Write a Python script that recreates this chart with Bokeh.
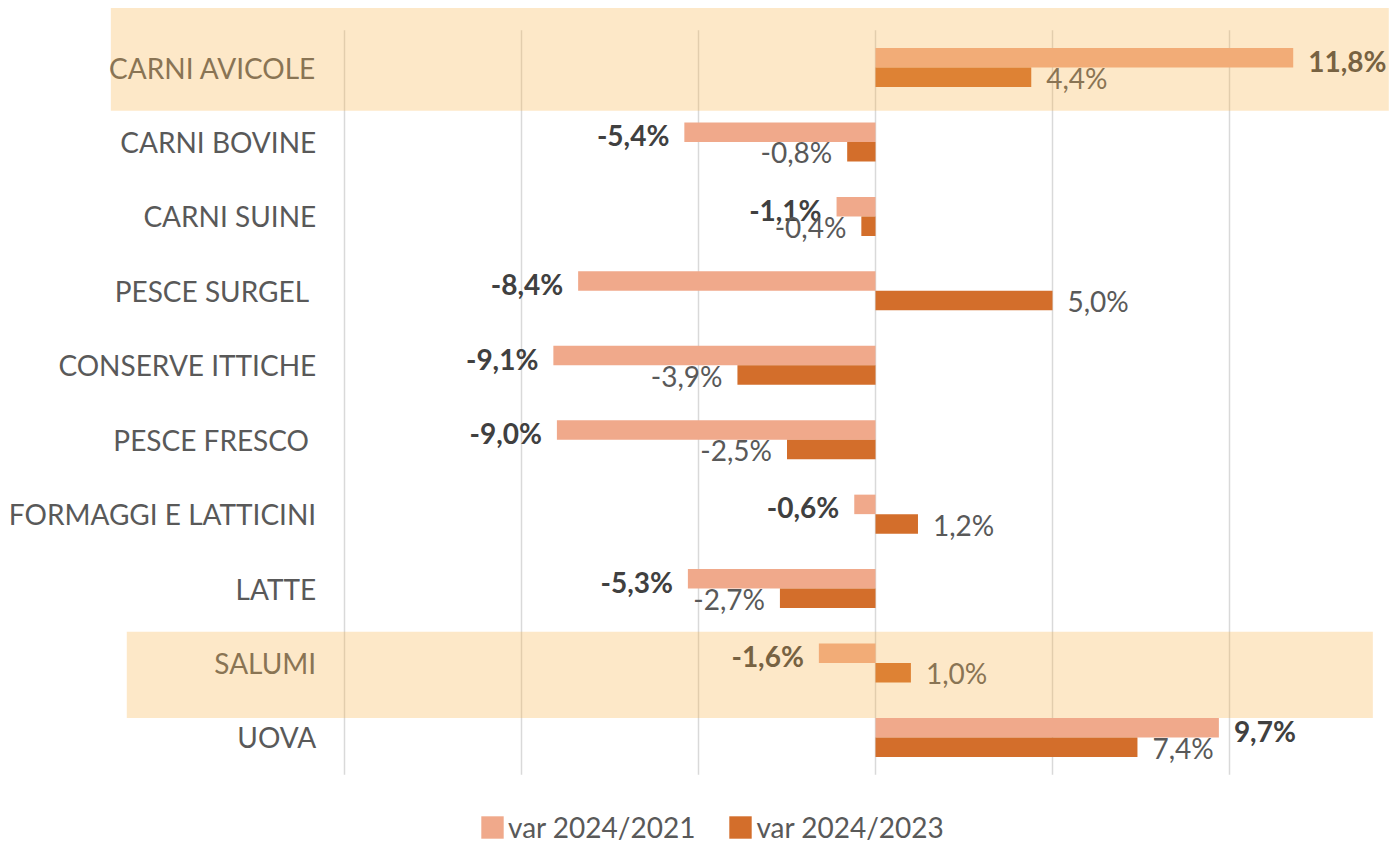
from bokeh.plotting import figure
from bokeh.models import Range1d, ColumnDataSource, Legend, LegendItem
from bokeh.core.properties import value
from bokeh.embed import file_html
from bokeh.resources import INLINE

# ---------------- data ----------------
categories = ["CARNI AVICOLE", "CARNI BOVINE", "CARNI SUINE", "PESCE SURGEL ",
              "CONSERVE ITTICHE", "PESCE FRESCO ", "FORMAGGI E LATTICINI",
              "LATTE", "SALUMI", "UOVA"]
var_2024_2021 = [11.8, -5.4, -1.1, -8.4, -9.1, -9.0, -0.6, -5.3, -1.6, 9.7]
var_2024_2023 = [4.4, -0.8, -0.4, 5.0, -3.9, -2.5, 1.2, -2.7, 1.0, 7.4]
series_names = ["var 2024/2021", "var 2024/2023"]
highlighted = ["CARNI AVICOLE", "SALUMI"]
grid_ticks = [-15, -10, -5, 0, 5, 10]

# ---------------- styling ----------------
FONT = "Lato"
FS = "28px"
C_LIGHT = "#F0A98B"
C_DARK = "#D36E2B"
C_TEXT_BOLD = "#404040"
C_TEXT = "#595959"
C_GRID = "#D9D9D9"
BAND_COLOR = (248, 178, 72)
BAND_ALPHA = 0.3

W, H = 1391, 845
PX_PER_UNIT = 35.4      # pixels per percentage point
PX_PER_ROW = 74.44
ZERO_PX = 875           # zero line position inside the frame
ROW0_PX = 67            # first row centre inside the frame

x_start = -ZERO_PX / PX_PER_UNIT
x_end = x_start + W / PX_PER_UNIT
y_top = -ROW0_PX / PX_PER_ROW
y_bottom = y_top + H / PX_PER_ROW

p = figure(width=W, height=H, output_backend="svg", toolbar_location=None,
           x_range=Range1d(x_start, x_end), y_range=Range1d(y_bottom, y_top),
           min_border=0, outline_line_color=None)
p.axis.visible = False
p.grid.visible = False
p.background_fill_color = "white"
p.border_fill_color = "white"

n = len(categories)
idx = list(range(n))

# vertical grid lines
p.segment(x0=grid_ticks, x1=grid_ticks, y0=[-0.5] * len(grid_ticks),
          y1=[n - 0.5] * len(grid_ticks), line_color=C_GRID, line_width=1.5)

BAR_H = 0.262
off = BAR_H / 2


def labels(vals):
    return [f"{v:.1f}%".replace(".", ",") for v in vals]


src1 = ColumnDataSource(dict(
    y=[i - off for i in idx], v=var_2024_2021, lab=labels(var_2024_2021),
    align=["left" if v >= 0 else "right" for v in var_2024_2021],
    xo=[15 if v >= 0 else -15 for v in var_2024_2021],
    ty=[i - 0.09 for i in idx]))
src2 = ColumnDataSource(dict(
    y=[i + off for i in idx], v=var_2024_2023, lab=labels(var_2024_2023),
    align=["left" if v >= 0 else "right" for v in var_2024_2023],
    xo=[15 if v >= 0 else -15 for v in var_2024_2023],
    ty=[i + 0.14 for i in idx]))

r1 = p.hbar(y="y", left=0, right="v", height=BAR_H, source=src1,
            fill_color=C_LIGHT, line_color=None)
r2 = p.hbar(y="y", left=0, right="v", height=BAR_H, source=src2,
            fill_color=C_DARK, line_color=None)

# category labels
p.text(x=[-15.8] * n, y=idx, text=categories, text_align="right",
       text_baseline="middle", text_font=value(FONT), text_font_size=FS,
       text_color=C_TEXT)

# value labels
p.text(x="v", y="ty", text="lab", x_offset="xo", text_align="align",
       text_baseline="middle", text_font=value(FONT), text_font_size=FS,
       text_font_style="bold", text_color=C_TEXT_BOLD, source=src1)
p.text(x="v", y="ty", text="lab", x_offset="xo", text_align="align",
       text_baseline="middle", text_font=value(FONT), text_font_size=FS,
       text_color=C_TEXT, source=src2)

# highlight bands (drawn on top, translucent)
band_geom = {"CARNI AVICOLE": (-21.6, 14.5, -0.8, 0.58),
             "SALUMI": (-21.15, 14.05, -0.42, 0.74)}
bl, br, bt, bb = [], [], [], []
for name in highlighted:
    i = categories.index(name)
    l, r, t, b = band_geom[name]
    bl.append(l); br.append(r); bt.append(i + t); bb.append(i + b)
p.quad(left=bl, right=br, top=bt, bottom=bb, fill_color=BAND_COLOR,
       fill_alpha=BAND_ALPHA, line_color=None)

legend = Legend(items=[LegendItem(label=series_names[0], renderers=[r1]),
                       LegendItem(label=series_names[1], renderers=[r2])],
                orientation="horizontal", location=(478, 1),
                glyph_width=28, glyph_height=28, label_standoff=2, spacing=31,
                padding=0, margin=0, border_line_alpha=0,
                background_fill_alpha=0,
                label_text_font=FONT, label_text_font_size=FS,
                label_text_color=C_TEXT)
p.add_layout(legend)

open("out.html", "w").write(file_html(p, INLINE))
